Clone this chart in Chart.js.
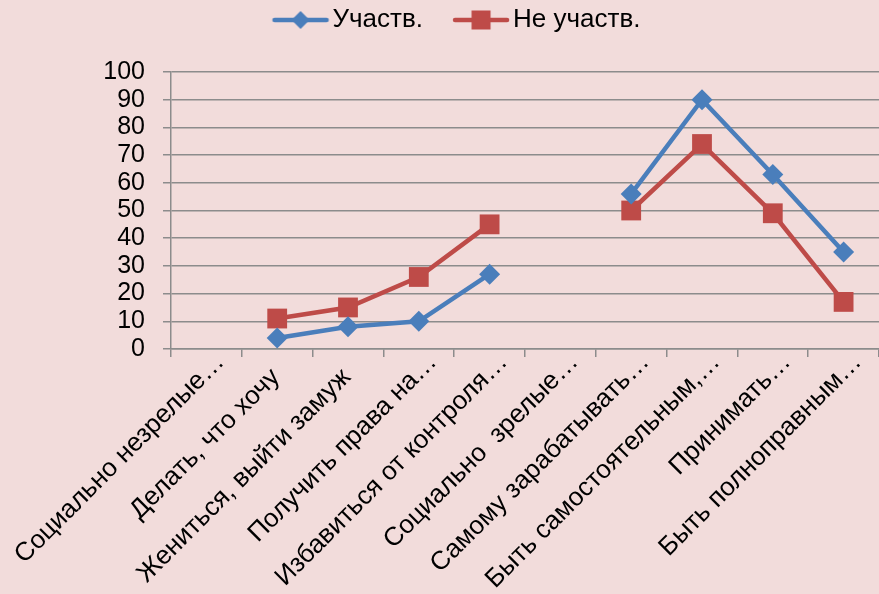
<!DOCTYPE html>
<html>
<head>
<meta charset="utf-8">
<script src="https://cdn.jsdelivr.net/npm/chart.js@4/dist/chart.umd.min.js"></script>
<style>
  html, body { margin: 0; padding: 0; background: #f2dcdb; }
  #wrap { width: 879px; height: 594px; position: relative; }
</style>
</head>
<body>
<div id="wrap"><canvas id="c" width="879" height="594"></canvas></div>
<script>
const categories = [
  "Социально незрелые…",
  "Делать, что хочу",
  "Жениться, выйти замуж",
  "Получить права на…",
  "Избавиться от контроля…",
  "Социально  зрелые…",
  "Самому зарабатывать…",
  "Быть самостоятельным,…",
  "Принимать…",
  "Быть полноправным…"
];
const seriesNames = ["Участв.", "Не участв."];
const participating = [null, 4, 8, 10, 27, null, 56, 90, 63, 35];
const notParticipating = [null, 11, 15, 26, 45, null, 50, 74, 49, 17];
const yTicks = [0, 10, 20, 30, 40, 50, 60, 70, 80, 90, 100];

const BLUE = '#4a7ebb';
const RED = '#be4b48';
const GRID = '#8c8c8c';
const FONT = '"Liberation Sans", Arial, sans-serif';

function legendIcon(color, style, r) {
  const cv = document.createElement('canvas');
  cv.width = 90; cv.height = 24;
  const g = cv.getContext('2d');
  g.strokeStyle = color; g.lineWidth = 4.5; g.lineCap = 'round';
  g.beginPath(); g.moveTo(35, 12); g.lineTo(87, 12); g.stroke();
  g.fillStyle = color;
  const cx = 61, cy = 12;
  g.beginPath();
  if (style === 'rect') {
    g.rect(cx - r, cy - r, 2 * r, 2 * r);
  } else {
    g.moveTo(cx, cy - r); g.lineTo(cx + r, cy); g.lineTo(cx, cy + r); g.lineTo(cx - r, cy); g.closePath();
  }
  g.fill();
  return cv;
}
const icons = [legendIcon(BLUE, 'rectRot', 9), legendIcon(RED, 'rect', 9.5)];

const legendSpace = {
  id: 'legendSpace',
  beforeInit(chart) {
    const origFit = chart.legend.fit;
    chart.legend.fit = function () {
      origFit.call(this);
      this.height = 72;
    };
  }
};

new Chart(document.getElementById('c'), {
  type: 'line',
  data: {
    labels: categories,
    datasets: [
      {
        label: seriesNames[0],
        data: participating,
        borderColor: BLUE,
        backgroundColor: BLUE,
        borderWidth: 4.5,
        pointStyle: 'rectRot',
        pointRadius: 10.5,
        pointHoverRadius: 10.5,
        pointBorderWidth: 0,
        spanGaps: false,
        tension: 0,
        clip: false
      },
      {
        label: seriesNames[1],
        data: notParticipating,
        borderColor: RED,
        backgroundColor: RED,
        borderWidth: 4.5,
        pointStyle: 'rect',
        pointRadius: 14,
        pointHoverRadius: 14,
        pointBorderWidth: 0,
        spanGaps: false,
        tension: 0,
        clip: false
      }
    ]
  },
  options: {
    responsive: false,
    animation: false,
    devicePixelRatio: 1,
    layout: { autoPadding: false, padding: { left: 11, right: 0, top: 0, bottom: 0 } },
    plugins: {
      tooltip: { enabled: false },
      legend: {
        position: 'top',
        labels: {
          usePointStyle: true,
          pointStyleWidth: 70,
          padding: 7,
          color: '#000',
          font: { family: FONT, size: 26 },
          generateLabels(chart) {
            return chart.data.datasets.map((ds, i) => ({
              text: ds.label,
              pointStyle: icons[i],
              fillStyle: ds.borderColor,
              strokeStyle: ds.borderColor,
              lineWidth: 0,
              fontColor: '#000',
              datasetIndex: i,
              hidden: false
            }));
          }
        }
      }
    },
    scales: {
      x: {
        type: 'category',
        offset: true,
        afterFit(scale) { scale.height = 245; },
        border: { display: true, color: GRID, width: 1.5 },
        grid: {
          display: true,
          offset: true,
          drawOnChartArea: false,
          drawTicks: true,
          tickLength: 8,
          color: GRID,
          lineWidth: 1.5
        },
        ticks: {
          autoSkip: false,
          maxRotation: 45,
          minRotation: 45,
          labelOffset: 14,
          padding: -10,
          color: '#000',
          font: { family: FONT, size: 26 },
          callback(value, index) {
            const t = categories[index];
            return t.endsWith('…') ? t : t + '   ';
          }
        }
      },
      y: {
        min: 0,
        max: 100,
        afterFit(scale) { scale.width = 160; },
        afterBuildTicks(scale) { scale.ticks = yTicks.map(v => ({ value: v })); },
        border: { display: true, color: GRID, width: 1.5 },
        grid: {
          color: GRID,
          lineWidth: 1.5,
          drawTicks: true,
          tickLength: 8
        },
        ticks: {
          autoSkip: false,
          padding: 18,
          color: '#000',
          font: { family: FONT, size: 25 }
        }
      }
    }
  },
  plugins: [legendSpace]
});
</script>
</body>
</html>
